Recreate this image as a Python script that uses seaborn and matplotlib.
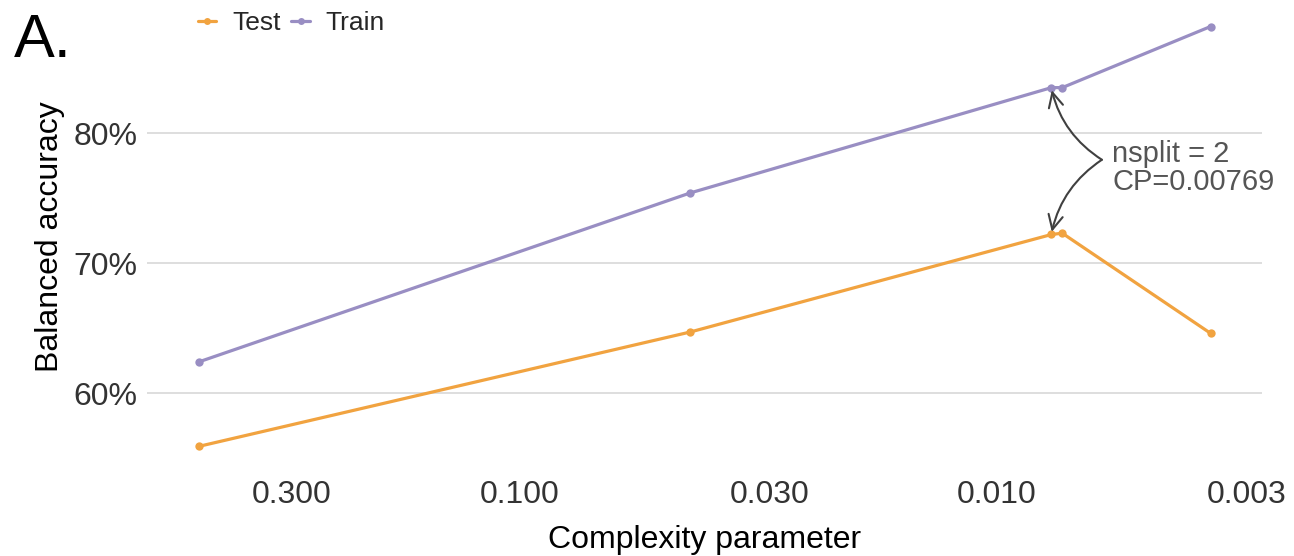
import numpy as np
import pandas as pd
import matplotlib
matplotlib.use("Agg")
import matplotlib.pyplot as plt
from matplotlib.ticker import PercentFormatter, FixedLocator, FixedFormatter, NullLocator
from matplotlib.lines import Line2D
import seaborn as sns

# ---- data ----
cp_values = [0.47, 0.0439, 0.00769, 0.0073, 0.00357]
train_acc = [0.624, 0.754, 0.835, 0.835, 0.882]
test_acc = [0.559, 0.647, 0.722, 0.723, 0.646]
series_names = ["Test", "Train"]
x_ticks = [0.3, 0.1, 0.03, 0.01, 0.003]
x_tick_labels = ["0.300", "0.100", "0.030", "0.010", "0.003"]
y_ticks = [0.6, 0.7, 0.8]
annot_text = "nsplit = 2\nCP=0.00769"
annot_cp = 0.00769
panel_label = "A."

df = pd.DataFrame({
    "cp": cp_values * 2,
    "acc": test_acc + train_acc,
    "set": ["Test"] * len(cp_values) + ["Train"] * len(cp_values),
})

sns.set_theme(style="white")
plt.rcParams["font.family"] = ["Liberation Sans", "DejaVu Sans"]

fig = plt.figure(figsize=(12.94, 5.56), dpi=100)
ax = fig.add_axes([0.1136, 0.16, 0.8614, 0.829])

palette = {"Test": "#f1a340", "Train": "#998ec3"}
sns.lineplot(data=df, x="cp", y="acc", hue="set", hue_order=series_names,
             palette=palette, marker="o", markersize=6, markeredgewidth=0,
             linewidth=2.3, ax=ax, legend=False, sort=False, estimator=None)

ax.set_xscale("log")
ax.set_xlim(0.6036, 0.00279)
ax.set_ylim(0.5431, 0.8977)

ax.xaxis.set_major_locator(FixedLocator(x_ticks))
ax.xaxis.set_major_formatter(FixedFormatter(x_tick_labels))
ax.xaxis.set_minor_locator(NullLocator())
ax.yaxis.set_major_locator(FixedLocator(y_ticks))
ax.yaxis.set_major_formatter(PercentFormatter(1.0, decimals=0))

ax.grid(axis="y", color="#d4d4d4", linewidth=1.1)
ax.grid(axis="x", visible=False)
ax.set_axisbelow(True)
for s in ax.spines.values():
    s.set_visible(False)
ax.tick_params(axis="both", length=0, labelsize=23, colors="#333333")
ax.tick_params(axis="x", pad=9)
ax.tick_params(axis="y", pad=7)

ax.set_xlabel("Complexity parameter", fontsize=23, color="black")
ax.set_ylabel("Balanced accuracy", fontsize=23, color="black")
ax.xaxis.set_label_coords(0.5, -0.158)
ax.yaxis.set_label_coords(-0.087, 0.5)
ax.yaxis.label.set_va("center")
ax.xaxis.label.set_va("center")

# annotation arrows
i_tr = cp_values.index(annot_cp)
src = (0.00603, 0.7795)
ax.annotate("", xy=(annot_cp, train_acc[i_tr] - 0.001), xytext=src,
            arrowprops=dict(arrowstyle="->", color="#404040", lw=1.5,
                            connectionstyle="arc3,rad=-0.2",
                            shrinkA=0, shrinkB=1, mutation_scale=26))
ax.annotate("", xy=(annot_cp, test_acc[i_tr] + 0.001), xytext=src,
            arrowprops=dict(arrowstyle="->", color="#404040", lw=1.5,
                            connectionstyle="arc3,rad=0.2",
                            shrinkA=0, shrinkB=1, mutation_scale=26))
ax.text(0.00573, 0.773, annot_text, fontsize=21, color="#555555",
        ha="left", va="center", linespacing=1.0)

# legend
handles = [Line2D([0], [0], color=palette[n], lw=2.3, marker="o", markersize=5,
                  markeredgewidth=0) for n in series_names]
fig.legend(handles, series_names, loc="center left", bbox_to_anchor=(0.153, 0.958),
           ncol=2, frameon=False, fontsize=19, handlelength=0.7,
           handletextpad=0.6, columnspacing=0.4, numpoints=1,
           borderaxespad=0, borderpad=0)

fig.text(0.011, 0.925, panel_label, fontsize=44, color="black", ha="left", va="center")

fig.savefig("out.png", dpi=100)
